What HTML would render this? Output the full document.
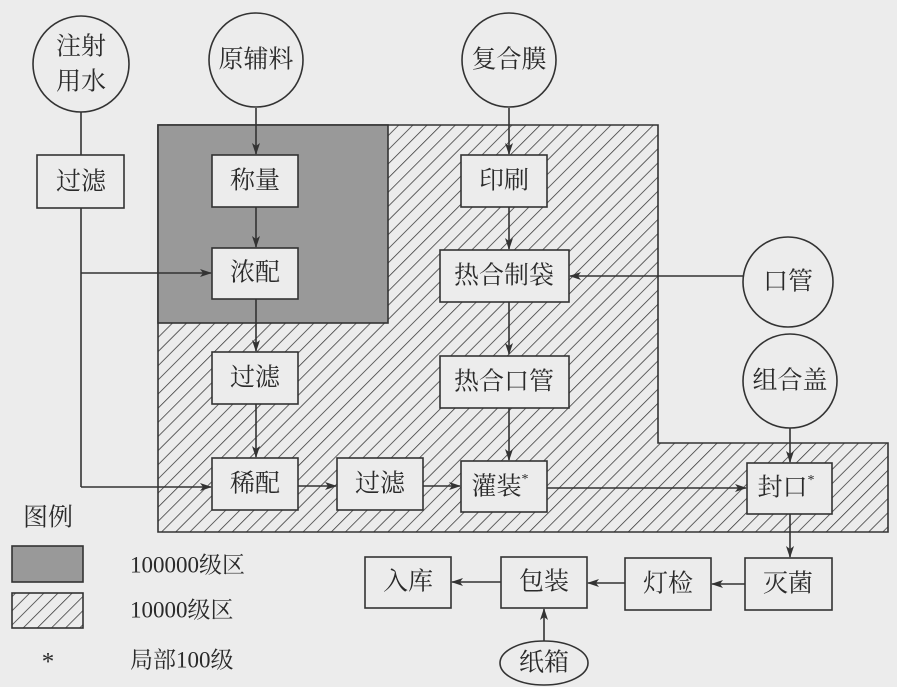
<!DOCTYPE html>
<html><head><meta charset="utf-8"><style>
html,body{margin:0;padding:0;background:#ececec;}
svg{display:block;}
text{font-family:"Liberation Serif","Noto Serif CJK SC",serif;font-size:25px;fill:#2a2a2a;text-anchor:middle;dominant-baseline:central;}
</style></head><body>
<svg width="897" height="687" viewBox="0 0 897 687" xmlns="http://www.w3.org/2000/svg">
<defs>
<pattern id="h" patternUnits="userSpaceOnUse" width="10" height="10" patternTransform="rotate(45)">
<rect width="10" height="10" fill="#ececec"/>
<line x1="0" y1="0" x2="0" y2="10" stroke="#333" stroke-width="1.5"/>
</pattern>
<marker id="a" markerWidth="12" markerHeight="8" refX="11" refY="4" orient="auto" markerUnits="userSpaceOnUse">
<path d="M0,0 L12,4 L0,8 L3,4 z" fill="#333"/>
</marker>
</defs>
<rect width="897" height="687" fill="#ececec"/>
<path d="M158,125 H658 V443 H888 V532 H158 Z" fill="url(#h)" stroke="#333" stroke-width="1.6"/>
<rect x="158" y="125" width="230" height="198" fill="#999" stroke="#333" stroke-width="1.6"/>
<g stroke="#333" stroke-width="1.6" fill="none">
<line x1="81" y1="112" x2="81" y2="155"/>
<line x1="81" y1="208" x2="81" y2="487"/>
<line x1="81" y1="273" x2="211" y2="273" marker-end="url(#a)"/>
<line x1="81" y1="487" x2="211" y2="487" marker-end="url(#a)"/>
<line x1="256" y1="108" x2="256" y2="154" marker-end="url(#a)"/>
<line x1="256" y1="207" x2="256" y2="247" marker-end="url(#a)"/>
<line x1="256" y1="299" x2="256" y2="351" marker-end="url(#a)"/>
<line x1="256" y1="404" x2="256" y2="457" marker-end="url(#a)"/>
<line x1="298" y1="486" x2="336" y2="486" marker-end="url(#a)"/>
<line x1="423" y1="486" x2="460" y2="486" marker-end="url(#a)"/>
<line x1="509" y1="108" x2="509" y2="154" marker-end="url(#a)"/>
<line x1="509" y1="207" x2="509" y2="249" marker-end="url(#a)"/>
<line x1="509" y1="302" x2="509" y2="354" marker-end="url(#a)"/>
<line x1="509" y1="408" x2="509" y2="460" marker-end="url(#a)"/>
<line x1="743" y1="276" x2="570" y2="276" marker-end="url(#a)"/>
<line x1="547" y1="488" x2="746" y2="488" marker-end="url(#a)"/>
<line x1="790" y1="428" x2="790" y2="462" marker-end="url(#a)"/>
<line x1="790" y1="514" x2="790" y2="557" marker-end="url(#a)"/>
<line x1="745" y1="584" x2="712" y2="584" marker-end="url(#a)"/>
<line x1="625" y1="583" x2="588" y2="583" marker-end="url(#a)"/>
<line x1="501" y1="582" x2="452" y2="582" marker-end="url(#a)"/>
<line x1="544" y1="641" x2="544" y2="609" marker-end="url(#a)"/>
</g>
<g fill="#ececec" stroke="#333" stroke-width="1.6">
<circle cx="81" cy="64" r="48"/>
<circle cx="256" cy="60" r="47"/>
<circle cx="509" cy="60" r="47"/>
<circle cx="788" cy="282" r="45"/>
<circle cx="790" cy="381" r="47"/>
<ellipse cx="544" cy="663" rx="44" ry="22"/>
</g>
<g fill="#ececec" stroke="#333" stroke-width="1.6">
<rect x="37" y="155" width="87" height="53"/>
<rect x="212" y="155" width="86" height="52"/>
<rect x="212" y="248" width="86" height="51"/>
<rect x="212" y="352" width="86" height="52"/>
<rect x="212" y="458" width="86" height="52"/>
<rect x="337" y="458" width="86" height="52"/>
<rect x="461" y="461" width="86" height="51"/>
<rect x="461" y="155" width="86" height="52"/>
<rect x="440" y="250" width="129" height="52"/>
<rect x="440" y="356" width="129" height="52"/>
<rect x="747" y="463" width="85" height="51"/>
<rect x="745" y="558" width="87" height="52"/>
<rect x="625" y="558" width="86" height="52"/>
<rect x="501" y="557" width="86" height="51"/>
<rect x="365" y="557" width="86" height="51"/>
</g>
<rect x="12" y="546" width="71" height="36" fill="#999" stroke="#333" stroke-width="1.6"/>
<rect x="12" y="593" width="71" height="35" fill="url(#h)" stroke="#333" stroke-width="1.6"/>
<text x="81" y="47">注射</text>
<text x="81" y="82">用水</text>
<text x="256" y="60">原辅料</text>
<text x="509" y="60">复合膜</text>
<text x="788" y="282">口管</text>
<text x="790" y="381">组合盖</text>
<text x="544" y="663">纸箱</text>
<text x="81" y="182">过滤</text>
<text x="255" y="181">称量</text>
<text x="255" y="273">浓配</text>
<text x="255" y="378">过滤</text>
<text x="255" y="484">稀配</text>
<text x="380" y="484">过滤</text>
<text x="500" y="487">灌装<tspan font-size="14" dy="-8">*</tspan></text>
<text x="504" y="181">印刷</text>
<text x="504" y="276">热合制袋</text>
<text x="504" y="382">热合口管</text>
<text x="786" y="488">封口<tspan font-size="14" dy="-8">*</tspan></text>
<text x="788" y="584">灭菌</text>
<text x="668" y="584">灯检</text>
<text x="544" y="582">包装</text>
<text x="408" y="582">入库</text>
<text x="48" y="518">图例</text>
<text x="48" y="662">*</text>
<text x="130" y="565" style="font-size:23px;text-anchor:start">100000级区</text>
<text x="130" y="610" style="font-size:23px;text-anchor:start">10000级区</text>
<text x="130" y="660" style="font-size:23px;text-anchor:start">局部100级</text>
</svg>
</body></html>
